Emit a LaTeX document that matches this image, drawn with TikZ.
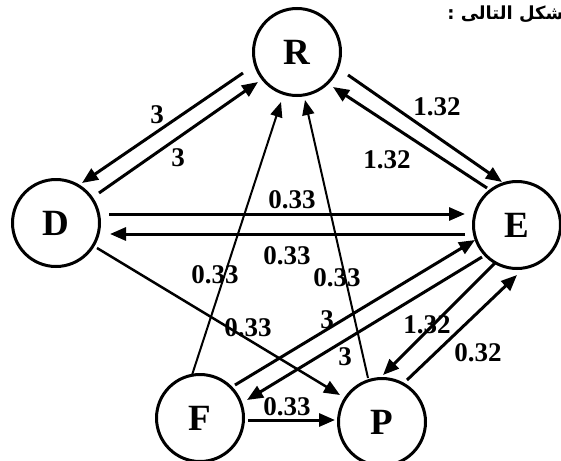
\documentclass[tikz,border=0pt]{standalone}
\usepackage{fontspec}
\setmainfont{Liberation Serif}
\newfontfamily\arabicfont[Script=Arabic]{DejaVu Sans}
\TeXXeTstate=1
\usetikzlibrary{arrows.meta}
\begin{document}
\begin{tikzpicture}[x=1pt,y=-1pt,
  state/.style={circle,draw,line width=3pt,minimum size=87pt,inner sep=0pt,
    font=\fontsize{37}{37}\selectfont\bfseries},
  arr/.style={line width=3pt,-{Triangle[length=16pt,width=13pt]}},
  midarr/.style={line width=2.5pt,-{Triangle[length=16pt,width=13pt]}},
  thinarr/.style={line width=2pt,-{Triangle[length=15pt,width=12pt]}},
  lbl/.style={font=\fontsize{27}{27}\selectfont\bfseries,inner sep=0pt}]
\clip (0,0) rectangle (561,460);
\fill[white] (0,0) rectangle (561,460);
\node[state] (R) at (297,52) {R};
\node[state] (D) at (56,223) {D};
\node[state] (E) at (517,225) {E};
\node[state] (F) at (200,418) {F};
\node[state] (P) at (382,422) {P};
\node[anchor=base east,inner sep=0pt,font=\arabicfont\bfseries\fontsize{18}{18}\selectfont] (title) at (577,20) {\beginR الشكل التالى :\endR};
% connectors
\draw[arr] ([shift={(-54,21)}]R.center) -- ([shift={(26,-40)}]D.center);
\draw[arr] ([shift={(43,-30)}]D.center) -- ([shift={(-39,30)}]R.center);
\draw[arr] ([shift={(53,-9)}]D.center) -- ([shift={(-52,-11)}]E.center);
\draw[arr] ([shift={(-52,9)}]E.center) -- ([shift={(54,11)}]D.center);
\draw[thinarr] ([shift={(-8,-43)}]F.center) -- ([shift={(-16,50)}]R.center);
\draw[thinarr] ([shift={(-14,-44)}]P.center) -- ([shift={(8,48)}]R.center);
\draw[arr] ([shift={(51,23)}]R.center) -- ([shift={(-15,-43)}]E.center);
\draw[arr] ([shift={(-30,-37)}]E.center) -- ([shift={(36,35)}]R.center);
\draw[arr] ([shift={(35,-33)}]F.center) -- ([shift={(-42,15)}]E.center);
\draw[arr] ([shift={(-35,32)}]E.center) -- ([shift={(47,-18)}]F.center);
\draw[midarr] ([shift={(41,25)}]D.center) -- ([shift={(-42,-27)}]P.center);
\draw[arr] ([shift={(-22,38)}]E.center) -- ([shift={(1,-47)}]P.center);
\draw[arr] ([shift={(25,-42)}]P.center) -- ([shift={(0,50)}]E.center);
\draw[arr] ([shift={(48,2)}]F.center) -- ([shift={(-47,-2)}]P.center);
% labels
\node[lbl] (lRD) at (157,115) {3};
\node[lbl] (lDR) at (178,158) {3};
\node[lbl] (lRE) at (437,107) {1.32};
\node[lbl] (lER) at (387,160) {1.32};
\node[lbl] (lDE) at (292,200) {0.33};
\node[lbl] (lED) at (287,256) {0.33};
\node[lbl] (lFR) at (215,275) {0.33};
\node[lbl] (lPR) at (337,278) {0.33};
\node[lbl] (lDP) at (248,328) {0.33};
\node[lbl] (lFE) at (327,320) {3};
\node[lbl] (lEF) at (345,357) {3};
\node[lbl] (lEP) at (427,325) {1.32};
\node[lbl] (lPE) at (478,353) {0.32};
\node[lbl] (lFP) at (287,407) {0.33};
\end{tikzpicture}
\end{document}
